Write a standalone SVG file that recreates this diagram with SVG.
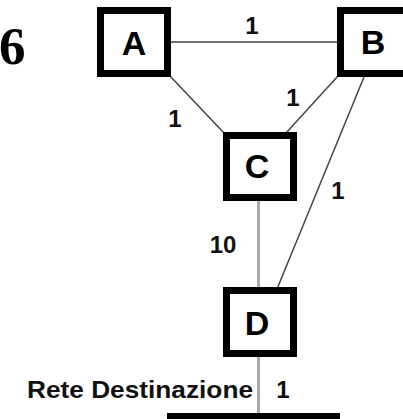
<svg xmlns="http://www.w3.org/2000/svg" width="403" height="419" viewBox="0 0 403 419">
<style>
.box{fill:#fff;stroke:#000;stroke-width:7}
.lbl{font-family:"Liberation Sans",Arial,sans-serif;font-weight:bold;font-size:34px;text-anchor:middle;fill:#000}
.w{font-family:"Liberation Sans",Arial,sans-serif;font-weight:bold;font-size:24px;fill:#111}
.ln{stroke:#444;stroke-width:1.5;fill:none}
.gl{stroke:#aaa;stroke-width:3;fill:none}
</style>
<rect width="403" height="419" fill="#fff"/>
<text x="-1" y="64" font-family="Liberation Serif,'Times New Roman',serif" font-weight="bold" font-size="53">6</text>
<g id="connectors">
<line class="ln" x1="171" y1="42" x2="337" y2="42"/>
<line class="ln" x1="170" y1="76" x2="224" y2="133"/>
<line class="ln" x1="338" y1="76" x2="286" y2="133"/>
<line class="ln" x1="364" y1="77" x2="277" y2="289"/>
<line class="gl" x1="258.5" y1="201" x2="258.5" y2="287"/>
<line class="gl" x1="258.5" y1="357" x2="258.5" y2="413"/>
</g>
<g id="labels">
<text class="w" x="252" y="34" text-anchor="middle">1</text>
<text class="w" x="175" y="127" text-anchor="middle">1</text>
<text class="w" x="293" y="106" text-anchor="middle">1</text>
<text class="w" x="338" y="199" text-anchor="middle">1</text>
<text class="w" x="223" y="253" text-anchor="middle">10</text>
<text class="w" x="283" y="398" text-anchor="middle">1</text>
<text class="w" x="27" y="398" font-size="25" textLength="226" lengthAdjust="spacingAndGlyphs">Rete Destinazione</text>
</g>
<g id="A"><rect class="box" x="100.5" y="10.5" width="67" height="63"/><text class="lbl" x="134" y="55">A</text></g>
<g id="B"><rect class="box" x="340.5" y="10.5" width="67" height="63"/><text class="lbl" x="373" y="54">B</text></g>
<g id="C"><rect class="box" x="226.5" y="135.5" width="67" height="62"/><text class="lbl" x="257" y="178">C</text></g>
<g id="D"><rect class="box" x="226.5" y="290.5" width="67" height="63"/><text class="lbl" x="257" y="335">D</text></g>
<g id="dest"><rect x="167" y="413" width="173" height="6" fill="#000"/></g>
</svg>
